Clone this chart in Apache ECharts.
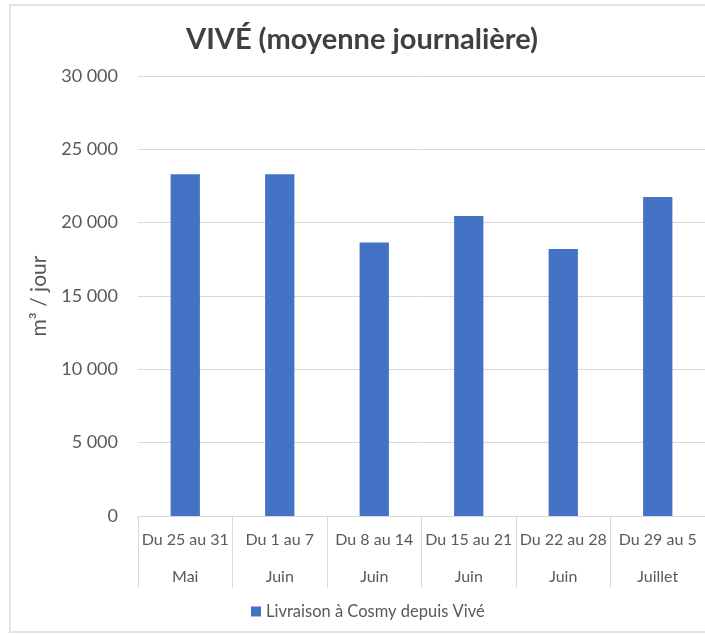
<!DOCTYPE html>
<html>
<head>
<meta charset="utf-8">
<script src="https://cdn.jsdelivr.net/npm/echarts@6/dist/echarts.min.js"></script>
<style>
  html, body { margin: 0; padding: 0; background: #fff; }
  #chart { width: 705px; height: 634px; }
</style>
</head>
<body>
<div id="chart"></div>
<script>
const periods = ['Du 25 au 31', 'Du 1 au 7', 'Du 8 au 14', 'Du 15 au 21', 'Du 22 au 28', 'Du 29 au 5']
const months = ['Mai', 'Juin', 'Juin', 'Juin', 'Juin', 'Juillet']
const livraison = [23300, 23300, 18650, 20450, 18200, 21750]

const FONT = 'Lato'
const GREY = '#d9d9d9'
const TEXT = '#595959'

function fmt(v) {
  return String(v).replace(/\B(?=(\d{3})+(?!\d))/g, ' ')
}

const chart = echarts.init(document.getElementById('chart'))
chart.setOption({
  animation: false,
  textStyle: { fontFamily: FONT },
  title: {
    text: 'VIVÉ (moyenne journalière)',
    left: 181,
    top: 20,
    textStyle: { fontFamily: FONT, fontSize: 29, fontWeight: 'bold', color: '#404040' }
  },
  graphic: [{
    type: 'rect',
    shape: { x: 10, y: 5, width: 705, height: 627 },
    style: { fill: 'none', stroke: '#e3e3e3', lineWidth: 2 },
    z: -1
  }],
  legend: {
    top: 598,
    left: 246,
    itemWidth: 10,
    itemHeight: 10,
    itemGap: 6,
    icon: 'rect',
    textStyle: { fontFamily: FONT, fontSize: 16.5, color: TEXT }
  },
  grid: { left: 138, right: 0, top: 76, bottom: 118 },
  xAxis: [
    {
      type: 'category',
      data: periods,
      axisLine: { lineStyle: { color: GREY } },
      axisTick: { show: true, length: 72, lineStyle: { color: GREY } },
      axisLabel: { fontFamily: FONT, fontSize: 16, color: TEXT, margin: 16, interval: 0 }
    },
    {
      type: 'category',
      position: 'bottom',
      data: months,
      offset: 37,
      axisLine: { show: false },
      axisTick: { show: false },
      axisLabel: { fontFamily: FONT, fontSize: 16, color: TEXT, margin: 16, interval: 0 }
    }
  ],
  yAxis: {
    type: 'value',
    min: 0,
    max: 30000,
    interval: 5000,
    name: 'm³ / jour',
    nameLocation: 'middle',
    nameGap: 88,
    nameTextStyle: { fontFamily: FONT, fontSize: 21, color: TEXT },
    axisLine: { show: false },
    axisTick: { show: false },
    splitLine: { lineStyle: { color: GREY } },
    axisLabel: { fontFamily: FONT, fontSize: 18, color: TEXT, margin: 20, formatter: fmt }
  },
  series: [{
    name: 'Livraison à Cosmy depuis Vivé',
    type: 'bar',
    barWidth: '31%',
    itemStyle: { color: '#4472c4' },
    data: livraison
  }]
})
</script>
</body>
</html>
